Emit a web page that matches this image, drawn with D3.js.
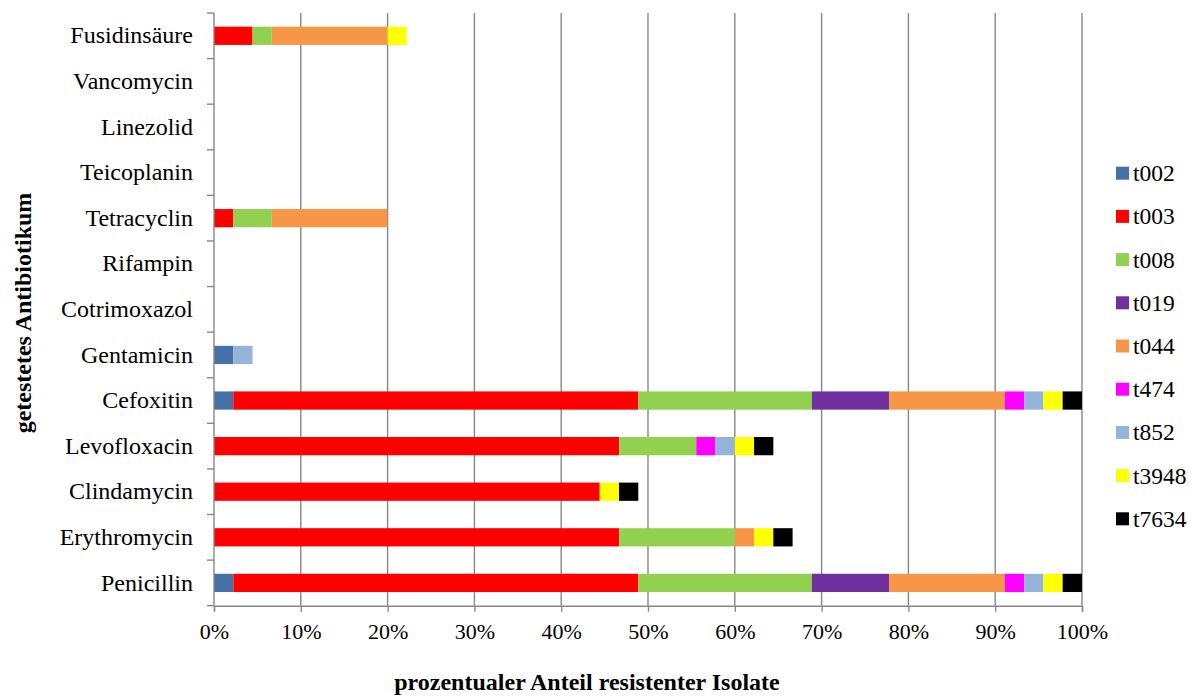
<!DOCTYPE html>
<html>
<head>
<meta charset="utf-8">
<script src="https://cdn.jsdelivr.net/npm/d3@7"></script>
<style>
  html, body { margin: 0; padding: 0; background: #fff; }
  svg { display: block; }
  svg text { font-family: "Liberation Serif", "Times New Roman", serif; }
</style>
</head>
<body>
<svg id="chart" width="1194" height="697" font-family="Liberation Serif, Times New Roman, serif"></svg>
<script>
// Antibiotics, listed top to bottom
const categories = ["Fusidinsäure", "Vancomycin", "Linezolid", "Teicoplanin", "Tetracyclin",
  "Rifampin", "Cotrimoxazol", "Gentamicin", "Cefoxitin", "Levofloxacin",
  "Clindamycin", "Erythromycin", "Penicillin"];

// spa types (stack order, left to right)
const spaTypes = ["t002", "t003", "t008", "t019", "t044", "t474", "t852", "t3948", "t7634"];
const colors = ["#4571A8", "#FF0000", "#92D050", "#7030A0", "#F79646", "#FF00FF", "#95B3D7", "#FFFF00", "#000000"];

// share of resistant isolates per spa type, in percent (same order as categories)
const t002  = [0,     0, 0, 0, 0,     0, 0, 2.22, 2.22,  0,     0,     0,     2.22];
const t003  = [4.44,  0, 0, 0, 2.22,  0, 0, 0,    46.67, 46.67, 44.44, 46.67, 46.67];
const t008  = [2.22,  0, 0, 0, 4.44,  0, 0, 0,    20.00, 8.89,  0,     13.33, 20.00];
const t019  = [0,     0, 0, 0, 0,     0, 0, 0,    8.89,  0,     0,     0,     8.89];
const t044  = [13.33, 0, 0, 0, 13.33, 0, 0, 0,    13.33, 0,     0,     2.22,  13.33];
const t474  = [0,     0, 0, 0, 0,     0, 0, 0,    2.22,  2.22,  0,     0,     2.22];
const t852  = [0,     0, 0, 0, 0,     0, 0, 2.22, 2.22,  2.22,  0,     0,     2.22];
const t3948 = [2.22,  0, 0, 0, 0,     0, 0, 0,    2.22,  2.22,  2.22,  2.22,  2.22];
const t7634 = [0,     0, 0, 0, 0,     0, 0, 0,    2.22,  2.22,  2.22,  2.22,  2.22];

const xTicks = [0, 10, 20, 30, 40, 50, 60, 70, 80, 90, 100];
const xTitle = "prozentualer Anteil resistenter Isolate";
const yTitle = "getestetes Antibiotikum";

const seriesValues = [t002, t003, t008, t019, t044, t474, t852, t3948, t7634];
const rows = categories.map((c, i) => {
  const r = { name: c };
  spaTypes.forEach((s, j) => { r[s] = seriesValues[j][i]; });
  return r;
});

const FONT = "Liberation Serif, Times New Roman, serif";
const svg = d3.select("#chart");
const margin = { left: 214, right: 112, top: 13, bottom: 91.3 };
const W = 1194, H = 697;
const gridColor = "#878787";

const x = d3.scaleLinear().domain([0, 100]).range([margin.left, W - margin.right]);
const y = d3.scaleBand().domain(categories).range([margin.top, H - margin.bottom]).paddingInner(0.6).paddingOuter(0.3);
const color = d3.scaleOrdinal().domain(spaTypes).range(colors);

// vertical gridlines
svg.append("g")
  .selectAll("line")
  .data(xTicks.slice(1))
  .join("line")
  .attr("x1", d => x(d)).attr("x2", d => x(d))
  .attr("y1", margin.top).attr("y2", H - margin.bottom)
  .attr("stroke", gridColor).attr("stroke-width", 1.4);

// stacked bars
const stack = d3.stack().keys(spaTypes)(rows);
svg.append("g")
  .selectAll("g")
  .data(stack)
  .join("g")
  .attr("fill", d => color(d.key))
  .selectAll("rect")
  .data(d => d.filter(p => p[1] - p[0] > 0))
  .join("rect")
  .attr("x", d => x(d[0]))
  .attr("width", d => x(d[1]) - x(d[0]))
  .attr("y", d => y(d.data.name))
  .attr("height", y.bandwidth());

// y axis: line with ticks at category boundaries
const yAxis = svg.append("g");
yAxis.append("line")
  .attr("x1", x(0)).attr("x2", x(0))
  .attr("y1", margin.top).attr("y2", H - margin.bottom)
  .attr("stroke", gridColor).attr("stroke-width", 1.4);
const step = y.step();
const boundaries = d3.range(categories.length + 1).map(i => margin.top + i * step);
yAxis.selectAll("line.tick")
  .data(boundaries)
  .join("line")
  .attr("class", "tick")
  .attr("x1", x(0) - 7).attr("x2", x(0))
  .attr("y1", d => d).attr("y2", d => d)
  .attr("stroke", gridColor).attr("stroke-width", 1.4);
yAxis.selectAll("text")
  .data(categories)
  .join("text")
  .attr("x", 193)
  .attr("y", d => y(d) + y.bandwidth() / 2)
  .attr("dy", "0.32em")
  .attr("text-anchor", "end")
  .attr("font-family", FONT)
  .attr("font-size", 24)
  .attr("fill", "#000")
  .text(d => d);

// x axis
const xAxis = svg.append("g")
  .attr("transform", `translate(0,${H - margin.bottom})`)
  .call(d3.axisBottom(x).tickValues(xTicks).tickSize(6).tickPadding(12).tickFormat(d => d + "%"));
xAxis.attr("font-family", FONT);
xAxis.select(".domain").attr("stroke", gridColor).attr("stroke-width", 1.4);
xAxis.selectAll(".tick line").attr("stroke", gridColor).attr("stroke-width", 1.4);
xAxis.selectAll(".tick text")
  .attr("font-size", 22)
  .attr("font-family", FONT)
  .attr("fill", "#000");

// axis titles
svg.append("text")
  .attr("x", 587).attr("y", 690)
  .attr("text-anchor", "middle")
  .attr("font-family", FONT)
  .attr("font-size", 24).attr("font-weight", "bold")
  .text(xTitle);
svg.append("text")
  .attr("transform", "translate(31,313) rotate(-90)")
  .attr("text-anchor", "middle")
  .attr("font-family", FONT)
  .attr("font-size", 24).attr("font-weight", "bold")
  .text(yTitle);

// legend
const legend = svg.append("g")
  .selectAll("g")
  .data(spaTypes)
  .join("g")
  .attr("transform", (d, i) => `translate(1116,${173.2 + i * 43.2})`);
legend.append("rect")
  .attr("x", 0).attr("y", -6.5)
  .attr("width", 13).attr("height", 13)
  .attr("fill", d => color(d));
legend.append("text")
  .attr("x", 17).attr("y", 0).attr("dy", "0.34em")
  .attr("font-family", FONT)
  .attr("font-size", 23.5)
  .attr("fill", "#000")
  .text(d => d);
</script>
</body>
</html>
